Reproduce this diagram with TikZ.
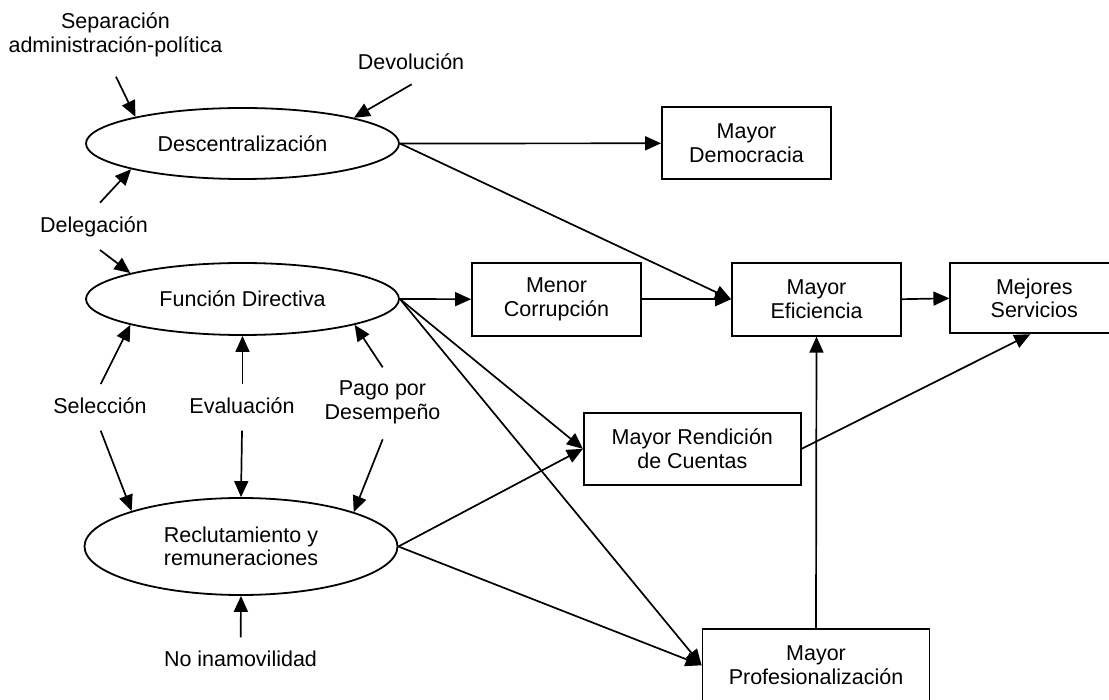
\documentclass[tikz,border=0pt]{standalone}
\usepackage{fontspec}
\setmainfont{Liberation Sans}
\usetikzlibrary{shapes.geometric,arrows.meta}

\begin{document}
\begin{tikzpicture}[x=1pt,y=-1pt,
  font=\fontsize{21.5}{23.5}\selectfont,
  every node/.style={align=center, inner sep=0pt},
  oval/.style={ellipse, draw, line width=1.8pt, minimum width=313pt},
  outcome/.style={rectangle, draw, line width=1.8pt, minimum height=72pt},
  arr/.style={line width=1.7pt, -{Triangle[length=16pt,width=14pt]}}]

\clip (0,0) rectangle (1109,700);
\fill[white] (0,0) rectangle (1109,700);

% reform areas
\node[oval, minimum height=71pt] (desc) at (242.5,143.5) {Descentralización};
\node[oval, minimum height=72pt] (fd)   at (242.5,299)   {Función Directiva};
\node[oval, minimum height=97pt] (rec)  at (241,546.5)   {Reclutamiento y\\remuneraciones};

% expected outcomes
\node[outcome, minimum width=169pt] (dem) at (746.5,143.3) {Mayor\\Democracia};
\node[outcome, minimum width=169pt, minimum height=73pt] (cor) at (556.5,299.2) {Menor\\Corrupción};
\node[outcome, minimum width=169pt, minimum height=73pt] (efi) at (816.5,299.2) {Mayor\\Eficiencia};
\node[outcome, minimum width=168pt, minimum height=70pt] (mej) at (1034.3,298.3) {Mejores\\Servicios};
\node[outcome, minimum width=217pt] (ren) at (692.3,448.8) {Mayor Rendición\\de Cuentas};
\node[outcome, minimum width=227pt, minimum height=73pt] (pro) at (816,665.3) {Mayor\\Profesionalización};

% instruments
\node (sep) at (115.5,35)    {Separación\\administración-política};
\node (dev) at (411,61.7)    {Devolución};
\node (del) at (94,226.7)    {Delegación};
\node (sel) at (100,405.7)   {Selección};
\node (eva) at (242,405.7)   {Evaluación};
\node (pag) at (382.5,402.3) {Pago por\\Desempeño};
\node (noi) at (240.5,659.3) {No inamovilidad};

% arrow tails next to the instrument labels
\coordinate (sepA) at (116,76.7);
\coordinate (devA) at (411.7,84.3);
\coordinate (delU) at (100,202.7);
\coordinate (delD) at (100,250);
\coordinate (selU) at (100.7,384);
\coordinate (selD) at (100.7,430.7);
\coordinate (evaU) at (242.5,384);
\coordinate (evaD) at (242,430.7);
\coordinate (pagU) at (382.7,367.3);
\coordinate (pagD) at (382.7,439.3);
\coordinate (noiU) at (240.7,637.3);

% instruments acting on the reform areas
\draw[arr] (sepA) -- (desc.166.7);
\draw[arr] (devA) -- (desc.13);
\draw[arr] (delU) -- (desc.193);
\draw[arr] (delD) -- (fd.167);
\draw[arr] (selU) -- (fd.193);
\draw[arr] (evaU) -- (fd.south);
\draw[arr] (pagU) -- (fd.347);
\draw[arr] (selD) -- (rec.162.7);
\draw[arr] (evaD) -- (rec.north);
\draw[arr] (pagD) -- (rec.17.3);
\draw[arr] (noiU) -- (rec.south);

% reform areas to outcomes
\draw[arr] (desc.east) -- (dem.west);
\draw[arr] (desc.east) -- (efi.west);
\draw[arr] (fd.east) -- (cor.west);
\draw[arr] (fd.east) -- (ren.west);
\draw[arr] (fd.east) -- (pro.west);
\draw[arr] (rec.east) -- (ren.west);
\draw[arr] (rec.east) -- (pro.west);

% outcomes to outcomes
\draw[arr] (cor.east) -- (efi.west);
\draw[arr] (efi.east) -- (mej.west);
\draw[arr] (pro.north) -- (efi.south);
\draw[arr] (ren.east) -- ([xshift=-4pt]mej.south);

\end{tikzpicture}
\end{document}
